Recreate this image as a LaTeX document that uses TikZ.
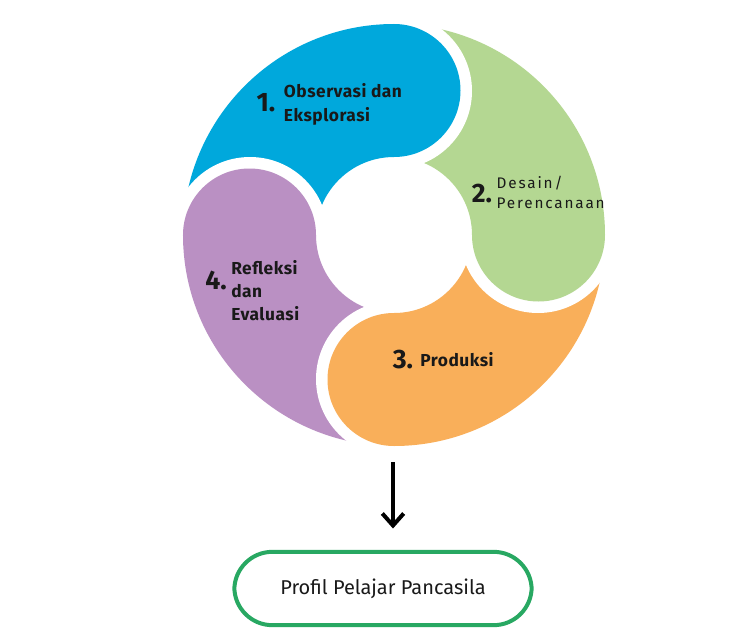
\documentclass[tikz,border=0pt]{standalone}
\usepackage{fontspec}
\setmainfont{Fira Sans}
\newfontfamily\segfont[LetterSpace=3]{Fira Sans}
\newfontfamily\segfontwide[LetterSpace=12]{Fira Sans}
\usepackage{xcolor}
\usetikzlibrary{positioning,arrows.meta}

\definecolor{segblue}{RGB}{0,168,220}
\definecolor{seggreen}{RGB}{180,215,146}
\definecolor{segorange}{RGB}{249,175,90}
\definecolor{segpurple}{RGB}{186,144,195}
\definecolor{profilgreen}{RGB}{40,168,98}
\definecolor{inktext}{RGB}{25,25,25}

\begin{document}
\begin{tikzpicture}[
    x=0.75pt, y=0.75pt,
    num_text/.style={inner sep=0pt, text=inktext, font=\bfseries\fontsize{20}{22}\selectfont},
    seg_text/.style={inner sep=0pt, text=inktext, align=left, font=\segfont\bfseries\fontsize{13}{17.5}\selectfont},
    profil_box/.style={draw=profilgreen, line width=3pt, rounded corners=28.5pt, minimum width=223pt, minimum height=55pt, text=inktext, font=\fontsize{15}{18}\selectfont},
    arrow/.style={-{Straight Barb[length=9pt, width=16pt]}, line width=3pt, draw=black}
]
\useasboundingbox (-394,-404) rectangle (351,235);

% ring bodies, one quarter each
\foreach \ang/\col in {90/segblue, 0/seggreen, -90/segorange, 180/segpurple}
    \fill[\col] (\ang:78) arc[start angle=\ang, end angle=\ang+90, radius=78]
        -- (\ang+90:211) arc[start angle=\ang+90, end angle=\ang, radius=211] -- cycle;

% round heads with a white gap on the leading side
\foreach \ang/\col in {90/segblue, 0/seggreen, -90/segorange, 180/segpurple} {
    \fill[white] (\ang:222) arc[start angle=\ang, end angle=\ang-180, radius=78] -- cycle;
    \fill[\col] (\ang:144.5) circle[radius=66.5];
}

\node[num_text] (num1) at (-128,132) {1.};
\node[seg_text, right=6pt of num1, yshift=-1pt] (obs) {Observasi dan\\Eksplorasi};

\node[num_text] (num2) at (88,41) {2.};
\node[seg_text, right=3pt of num2, yshift=1pt,
      font=\segfontwide\fontsize{11.5}{15}\selectfont] (desain) {Desain/\\Perencanaan};

\node[num_text] (num3) at (9,-125) {3.};
\node[seg_text, right=5pt of num3] (produksi) {Produksi};

\node[num_text] (num4) at (-178,-45) {4.};
\node[seg_text, right=3pt of num4, yshift=-8pt, font=\segfont\bfseries\fontsize{13}{17}\selectfont] (refleksi) {Refleksi\\dan\\Evaluasi};

\node[profil_box] (profil) at (-11,-353.5) {Profil Pelajar Pancasila};

\coordinate (cycle_out) at (-1,-227);
\draw[arrow, shorten >=16pt] (cycle_out) -- (cycle_out |- profil.north);

\end{tikzpicture}
\end{document}
